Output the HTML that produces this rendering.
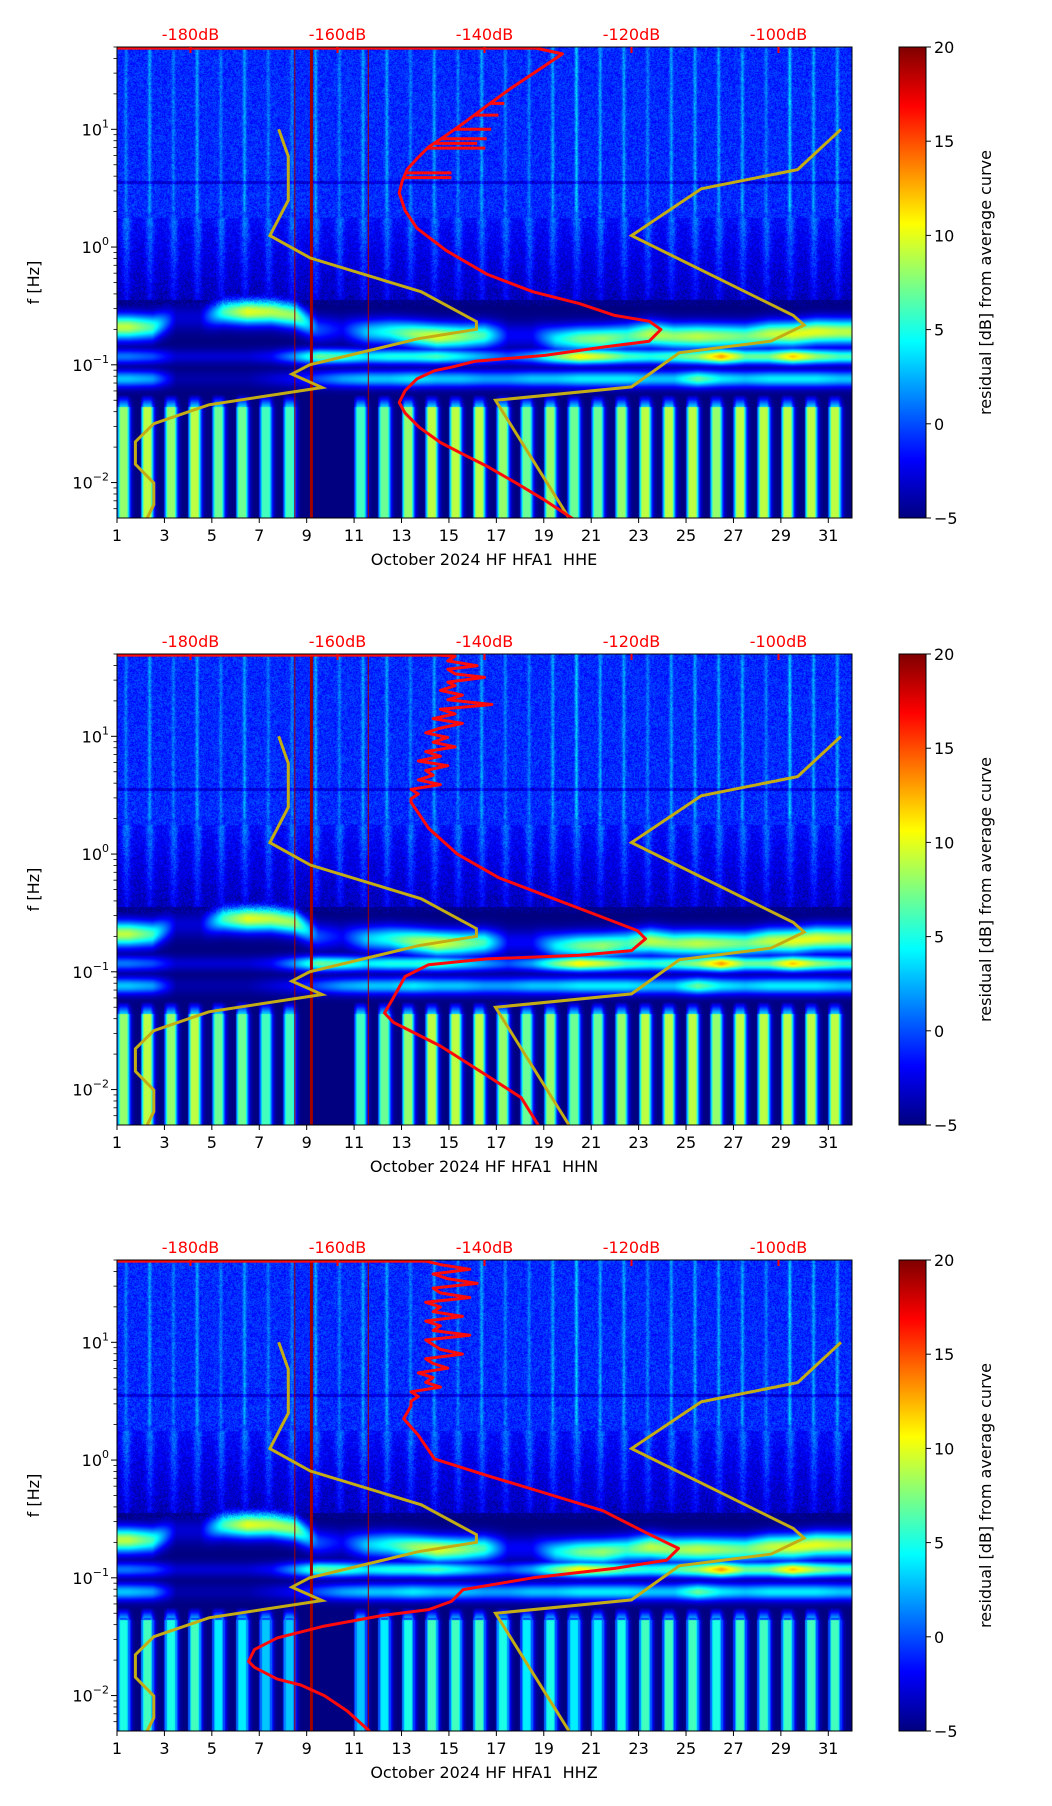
<!DOCTYPE html>
<html><head><meta charset="utf-8"><style>
body{margin:0;background:#fff;}
#wrap{position:relative;width:1052px;height:1806px;overflow:hidden;background:#fff;font-family:"DejaVu Sans","Liberation Sans",sans-serif;}
canvas{position:absolute;}
svg{position:absolute;left:0;top:0;}
</style></head><body>
<div id="wrap">
<canvas id="c0" width="735" height="471" style="left:117px;top:47px"></canvas>
<canvas id="c1" width="735" height="471" style="left:117px;top:654px"></canvas>
<canvas id="c2" width="735" height="471" style="left:117px;top:1260px"></canvas>
<svg id="ov" width="1052" height="1806"></svg>
</div>
<script>
// ---- data ----
const panelTops=[47,654,1260];
const panelNames=["HHE","HHN","HHZ"];
const xTicks=[1,3,5,7,9,11,13,15,17,19,21,23,25,27,29,31];
const dbTicks=[-180,-160,-140,-120,-100];
const yTickExp=[1,0,-1,-2];
const cbTicks=[20,15,10,5,0,-5];
// NLNM / NHNM (frequency log10, dB)
const nlnmLogF=[1,0.77,0.398,0.097,-0.093,-0.380,-0.633,-0.699,-0.778,-1,-1.079,-1.193,-1.340,-1.500,-1.653,-1.845,-2.004,-2.188,-2.301];
const nlnmDb=[-168,-166.7,-166.7,-169.2,-163.7,-148.6,-141.1,-141.1,-149,-163.8,-166.2,-162.1,-177.5,-185,-187.5,-187.5,-185,-185,-185.9];
const nhnmLogF=[1,0.658,0.495,0.097,-0.580,-0.663,-0.799,-0.898,-1.188,-1.301,-2.301];
const nhnmDb=[-91.5,-97.4,-110.5,-120,-98,-96.5,-101,-113.5,-120,-138.5,-128.5];
// red average PSD curves
const redLogF0=[1.69,1.69,1.64,1.54,1.34,1.20,1.05,0.95,0.85,0.75,0.66,0.56,0.46,0.31,0.16,-0.03,-0.23,-0.38,-0.48,-0.58,-0.63,-0.70,-0.80,-0.85,-0.92,-0.97,-1.02,-1.05,-1.12,-1.22,-1.32,-1.41,-1.53,-1.66,-1.76,-1.86,-2.00,-2.15,-2.31];
const redDb0=[-200,-133,-129.4,-131.8,-136.6,-139.7,-142.9,-145.2,-147.6,-149.2,-150.5,-151.2,-151.6,-150.8,-149.2,-145.2,-139.7,-133.4,-127.1,-122.3,-117.6,-116.0,-117.6,-123.9,-131.8,-141.3,-144.5,-146.8,-149.2,-150.8,-151.6,-150.8,-148.9,-146.0,-142.9,-139.7,-135.8,-131.8,-127.9];
const spikeLogF0=[1.22,1.12,1.00,0.92,0.88,0.84,0.63,0.59];
const spikeDb0=[-137.3,-138.1,-139.1,-139.7,-141.0,-139.9,-144.5,-144.5];
const redLogF1=[1.69,1.69,1.68,1.64,1.60,1.57,1.53,1.50,1.46,1.43,1.39,1.35,1.31,1.27,1.23,1.19,1.15,1.11,1.07,1.03,0.99,0.95,0.91,0.87,0.83,0.79,0.75,0.71,0.67,0.63,0.59,0.55,0.51,0.47,0.44,0.22,0.0,-0.2,-0.35,-0.5,-0.65,-0.72,-0.82,-0.86,-0.89,-0.94,-1.04,-1.22,-1.35,-1.43,-1.63,-1.88,-2.07,-2.31];
const redDb1=[-200,-146,-144,-145,-141,-145,-144,-140,-145,-144,-146,-143,-145,-139,-146,-144,-147,-143,-146,-148,-145,-147,-144,-148,-146,-149,-145,-148,-147,-149,-146,-150,-149,-150,-150,-147.6,-143.7,-138.1,-131.8,-125.5,-119.2,-118.1,-120,-127.1,-139.7,-147.6,-150.8,-152.4,-153.6,-152.4,-146,-139.7,-135,-132.6];
const redLogF2=[1.69,1.69,1.66,1.62,1.58,1.54,1.50,1.46,1.42,1.38,1.34,1.30,1.26,1.22,1.18,1.14,1.10,1.06,1.02,0.98,0.94,0.90,0.86,0.82,0.78,0.74,0.70,0.66,0.62,0.58,0.54,0.50,0.46,0.35,0.21,0.01,-0.13,-0.28,-0.43,-0.63,-0.75,-0.85,-0.92,-1.0,-1.10,-1.20,-1.27,-1.32,-1.41,-1.51,-1.61,-1.71,-1.76,-1.86,-1.91,-2.0,-2.13,-2.31];
const redDb2=[-200,-148,-146,-142,-147,-145,-141,-147,-146,-142,-148,-146,-147,-143,-148,-146,-147,-142,-148,-147,-146,-143,-148,-147,-145,-149,-147,-148,-146,-150,-149,-150,-150,-151,-149,-146.8,-139.7,-131.8,-123.9,-117.6,-113.6,-115.2,-122.3,-133.4,-142.9,-144.5,-147.6,-153.9,-161.8,-168.2,-171.3,-172.1,-171.3,-168.2,-165,-161.8,-158.7,-155.5,-152.4];
const redLogF=[redLogF0,redLogF1,redLogF2];
const redDb=[redDb0,redDb1,redDb2];
// spectrogram per-day levels (dB residual), days 1..31
const upLevel=[9,6,-3,-3,6,10,9,8,0,-2,3,5,8,10,8,6,-2,-2,4,7,8,6,9,8,9,8,7,9,10,10,9];
const upCenter=[-0.68,-0.68,-0.6,-0.6,-0.55,-0.55,-0.55,-0.58,-0.7,-0.7,-0.72,-0.72,-0.74,-0.76,-0.76,-0.75,-0.75,-0.75,-0.78,-0.78,-0.78,-0.76,-0.74,-0.76,-0.76,-0.76,-0.76,-0.74,-0.74,-0.72,-0.72];
const loLevel=[1,0,-3,-3,-3,-3,-2,2,7,6,4,5,5,6,4,2,0,2,7,11,9,6,5,6,8,13,7,7,12,8,6];
const band08=[3,2,-4,-4,-4,-4,-3,-2,0,2,3,3,4,3,3,2,2,3,3,4,4,4,3,3,7,4,3,4,4,4,3];
const lowLevel=[8,9,8,9,7,7,6,6,-5,-5,6,7,8,9,9,9,8,7,8,7,7,8,9,9,9,8,9,9,9,9,9];
const hfLevel=[2,3,2,3,2,3,2,2,3,2,3,3,2,3,2,3,2,2,3,4,3,3,2,3,3,3,3,2,4,3,3];
</script>
<script>
const NS="http://www.w3.org/2000/svg";
const ov=document.getElementById('ov');
const L=117,R=852,H=471,LMAX=1.699,LMIN=-2.301;
function xDay(d){return L+(d-1)/31*(R-L);}
function xDb(db){return L+(db+190)/100*(R-L);}
function yF(top,lf){return top+(LMAX-lf)/(LMAX-LMIN)*H;}
function mk(tag,attrs,parent){const e=document.createElementNS(NS,tag);for(const k in attrs)e.setAttribute(k,attrs[k]);(parent||ov).appendChild(e);return e;}
function jet(t){t=Math.max(0,Math.min(1,t));const c=v=>Math.max(0,Math.min(1,v));return [c(1.5-Math.abs(4*t-3))*255,c(1.5-Math.abs(4*t-2))*255,c(1.5-Math.abs(4*t-1))*255];}
function g(x,s){return Math.exp(-x*x/(2*s*s));}
function interp(a,day){const p=day-1.5;let i=Math.floor(p);const t=p-i;const i0=Math.max(0,Math.min(30,i)),i1=Math.max(0,Math.min(30,i+1));return a[i0]*(1-t)+a[i1]*t;}
function val(p,day,lf){
  const di=Math.max(0,Math.min(30,Math.floor(day)-1));const fr=day-Math.floor(day);
  let v;
  if(lf>0.25){v=-0.9+hfLevel[di]*g(fr-0.38,0.05)*(lf>0.3?1:0.6); if(Math.abs(lf-0.55)<0.012)v-=2;}
  else if(lf>-0.45){const k=(0.25-lf)/0.7;v=-1.8-k*1.8+3*g(fr-0.4,0.12)*(1-k*0.5);}
  else if(lf>-1.25){v=-5;}
  else{
    const d=Math.min(1,(-1.25-lf)/0.1);
    const sh=Math.min(1,g(fr-0.28,0.16)*1.5);
    const lv=lowLevel[di];
    v=(lv>0)?(-5+(lv+5)*d*sh):-5;
    if(lf>-1.36&&lv>0)v=Math.min(v,-5+8*sh*d);
  }
  const c1=-5+(interp(upLevel,day)+5)*g(lf-interp(upCenter,day),0.075);
  const c2=-5+(interp(loLevel,day)+5)*g(lf+0.93,0.045);
  const c3=-5+(interp(band08,day)+5)*g(lf+1.12,0.05);
  v=Math.max(v,c1,c2,c3);
  if(p===2&&lf<-1.3&&v>2)v-=3;
  return v;
}
for(let p=0;p<3;p++){
  const cv=document.getElementById('c'+p),ctx=cv.getContext('2d');
  const img=ctx.createImageData(735,471);
  for(let y=0;y<471;y++){const lf=LMAX-(y+0.5)/H*(LMAX-LMIN);
    for(let x=0;x<735;x++){const day=1+(x+0.5)/735*31;
      let v=val(p,day,lf);
      const h=(((x*73856093)^(y*19349663))>>>0)%1000;
      if(lf>-0.5)v+=(h/1000-0.5)*2.4;
      const c=jet((v+5)/25);const i=(y*735+x)*4;img.data[i]=c[0];img.data[i+1]=c[1];img.data[i+2]=c[2];img.data[i+3]=255;}}
  ctx.putImageData(img,0,0);
}
for(let p=0;p<3;p++){
  const top=panelTops[p],bot=top+H;
  const gp=mk('g',{});
  
  
  const cid='clip'+p;const cp=mk('clipPath',{id:cid},gp);mk('rect',{x:L,y:top,width:R-L,height:H},cp);
  const vl=[[8.5,1,'#a00000'],[9.2,3,'#a00000'],[11.6,1,'#a00000']];
  for(const v of vl){const e=mk('line',{x1:xDay(v[0]),x2:xDay(v[0]),y1:top,y2:bot,stroke:v[2],'stroke-width':v[1]},gp);}
  const gl=mk('g',{'clip-path':'url(#'+cid+')'},gp);
  const path=(lfs,dbs)=>lfs.map((f,i)=>(i?'L':'M')+xDb(dbs[i]).toFixed(1)+','+yF(top,f).toFixed(1)).join('');
  let e=mk('path',{d:path(nlnmLogF,nlnmDb),fill:'none',stroke:'#c4ad14','stroke-width':3},gl);
  
  e=mk('path',{d:path(nhnmLogF,nhnmDb),fill:'none',stroke:'#c4ad14','stroke-width':3},gl);
  
  e=mk('path',{d:path(redLogF[p],redDb[p]),fill:'none',stroke:'#ff0a0a','stroke-width':3,'stroke-linejoin':'round'},gl);
  
  if(p===0){for(let i=0;i<spikeLogF0.length;i++){
    const f=spikeLogF0[i];let x0=-150;const lfs=redLogF0,dbs=redDb0;
    for(let j=1;j<lfs.length;j++){if(lfs[j]<=f&&lfs[j-1]>=f){const t=(lfs[j-1]-f)/(lfs[j-1]-lfs[j]||1);x0=dbs[j-1]+(dbs[j]-dbs[j-1])*t;break;}}
    e=mk('line',{x1:xDb(x0),x2:xDb(spikeDb0[i]),y1:yF(top,f),y2:yF(top,f),stroke:'#ff0a0a','stroke-width':3},gl);
    }}
  e=mk('rect',{x:L,y:top,width:R-L,height:H,fill:'none',stroke:'#000','stroke-width':1},gp);
  
  for(const d of xTicks){const x=xDay(d);mk('line',{x1:x,x2:x,y1:bot,y2:bot+5,stroke:'#000'},gp);
    e=mk('text',{x:x,y:bot+23,'text-anchor':'middle','font-size':16},gp);e.textContent=d;
    }
  e=mk('text',{x:484,y:bot+47,'text-anchor':'middle','font-size':16},gp);e.textContent='October 2024 HF HFA1\u00a0 '+panelNames[p];
  
  for(const db of dbTicks){const x=xDb(db);mk('line',{x1:x,x2:x,y1:top,y2:top+6,stroke:'#ff0000','stroke-width':2},gp);
    e=mk('text',{x:x,y:top-7,'text-anchor':'middle','font-size':16,fill:'#ff0000'},gp);e.textContent=db+'dB';
    }
  for(const ex of yTickExp){const y=yF(top,ex);mk('line',{x1:L-6,x2:L,y1:y,y2:y,stroke:'#000'},gp);
    e=mk('text',{x:L-8,y:y+6,'text-anchor':'end','font-size':16},gp);
    
    const t1=mk('tspan',{},e);t1.textContent='10';
    const t2=mk('tspan',{dy:-8,'font-size':11},e);t2.textContent=ex<0?'\u2212'+(-ex):String(ex);}
  for(let ex=-3;ex<=1;ex++)for(let m=2;m<=9;m++){const lf=ex+Math.log10(m);if(lf>LMAX||lf<LMIN)continue;const y=yF(top,lf);mk('line',{x1:L-3.5,x2:L,y1:y,y2:y,stroke:'#000','stroke-width':0.8},gp);}
  e=mk('text',{x:0,y:0,'text-anchor':'middle','font-size':16,transform:'translate(39,'+(top+H/2)+') rotate(-90)'},gp);e.textContent='f [Hz]';
  
  const gid='jet'+p;const lg=mk('linearGradient',{id:gid,x1:0,y1:1,x2:0,y2:0},gp);
  [[0,'#00007f'],[0.125,'#0000ff'],[0.375,'#00ffff'],[0.625,'#ffff00'],[0.875,'#ff0000'],[1,'#7f0000']].forEach(s=>mk('stop',{offset:s[0],'stop-color':s[1]},lg));
  e=mk('rect',{x:899,y:top,width:27,height:H,fill:'url(#'+gid+')',stroke:'#000','stroke-width':1},gp);
  
  for(const t of cbTicks){const y=top+(20-t)/25*H;mk('line',{x1:926,x2:931,y1:y,y2:y,stroke:'#000'},gp);
    e=mk('text',{x:934,y:y+6,'font-size':16},gp);e.textContent=t<0?'\u2212'+(-t):t;
    }
  e=mk('text',{x:0,y:0,'text-anchor':'middle','font-size':16,transform:'translate(991,'+(top+H/2)+') rotate(-90)'},gp);e.textContent='residual [dB] from average curve';
  
}
</script>
</body></html>
